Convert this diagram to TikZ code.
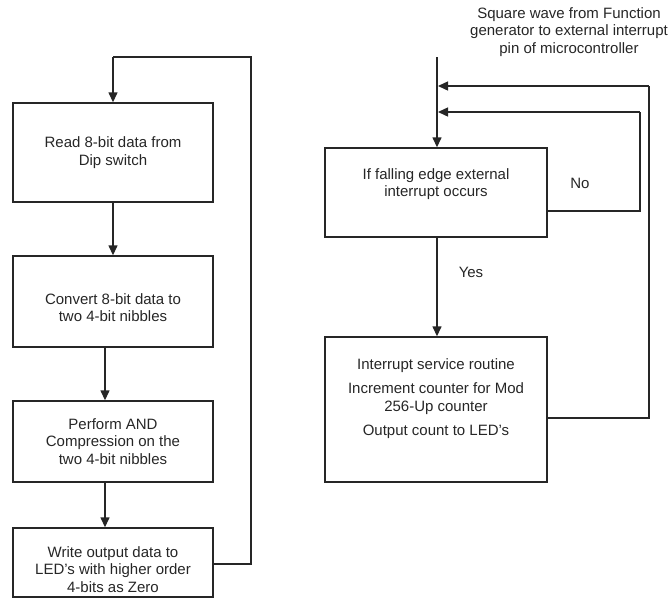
\documentclass[tikz,border=0pt]{standalone}
\usepackage{fontspec}
\setmainfont{Liberation Sans}
\usetikzlibrary{arrows.meta}
\begin{document}
\begin{tikzpicture}[x=1pt,y=-1pt,
  line/.style={draw=black!85, line width=1.4pt},
  arr/.style={line, -{Triangle[length=10pt,width=9pt]}},
  boxnode/.style={draw=black!85, line width=1.4pt, rectangle, inner sep=0pt, align=center,
    font=\fontsize{15}{17.5}\selectfont, text=black!85},
  lbl/.style={inner sep=0pt, font=\fontsize{15}{17.5}\selectfont, text=black!85, align=center}]
\useasboundingbox (0,0) rectangle (670,608);
% left column
\node[boxnode, minimum width=200pt, minimum height=99pt] (b1) at (113,152.5) {Read 8-bit data from\\Dip switch};
\node[boxnode, minimum width=200pt, minimum height=91pt] (b2) at (113,301.5) {\parbox{190pt}{\centering\vspace*{12pt}Convert 8-bit data to\\two 4-bit nibbles}};
\node[boxnode, minimum width=200pt, minimum height=81pt] (b3) at (113,441.5) {Perform AND\\Compression on the\\two 4-bit nibbles};
\node[boxnode, minimum width=200pt, minimum height=69pt] (b4) at (113,562.5) {\parbox{190pt}{\centering\vspace*{14pt}Write output data to\\LED's with higher order\\4-bits as Zero}};
\coordinate (lt) at (251,57);
\coordinate (lb) at (251,564);
\coordinate (l1) at (113,57);
\draw[arr] (b1.south) -- (b2.north);
\draw[arr] ([xshift=-8pt]b2.south) -- ([xshift=-8pt]b3.north);
\draw[arr] ([xshift=-8pt]b3.south) -- ([xshift=-8pt]b4.north);
\draw[line] (b4.east |- lb) -- (lb) -- (lt) -- (l1);
\draw[arr] (l1) -- (b1.north);
% right column
\node[lbl] (cap) at (569,32) {\fontsize{15}{15}\selectfont Square wave from Function\\generator to external interrupt\\pin of microcontroller};
\node[boxnode, minimum width=222pt, minimum height=89pt] (ifb) at (436,192.5) {\parbox{212pt}{\centering If falling edge external\\interrupt occurs\vspace*{17pt}}};
\node[boxnode, minimum width=222pt, minimum height=145pt] (isr) at (436,409.5) {\parbox{212pt}{\centering Interrupt service routine\\[7pt]Increment counter for Mod\\256-Up counter\\[7pt]Output count to LED's\vspace*{22pt}}};
\node[lbl] (no) at (580,183) {No};
\node[lbl] (yes) at (471,272) {Yes};
\coordinate (in) at (437,57);
\coordinate (o1) at (649,418);
\coordinate (o2) at (649,86);
\coordinate (o3) at (438,86);
\coordinate (i1) at (640,211);
\coordinate (i2) at (640,112);
\coordinate (i3) at (438,112);
\draw[arr] (in) -- (in |- ifb.north);
\draw[arr] (ifb.south -| in) -- (in |- isr.north);
\draw[line] (isr.east |- o1) -- (o1) -- (o2);
\draw[arr] (o2) -- (o3);
\draw[line] (ifb.east |- i1) -- (i1) -- (i2);
\draw[arr] (i2) -- (i3);
\end{tikzpicture}
\end{document}
